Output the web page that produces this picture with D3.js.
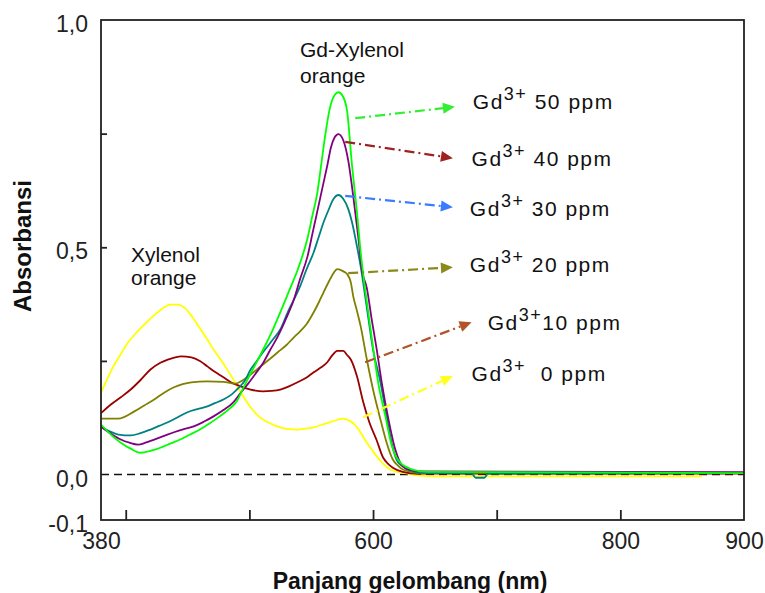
<!DOCTYPE html>
<html>
<head>
<meta charset="utf-8">
<script src="https://cdn.jsdelivr.net/npm/d3@7"></script>
<style>
  html, body { margin: 0; padding: 0; background: #fff; }
  svg { display: block; font-family: "Liberation Sans", Arial, sans-serif; }
  text { white-space: pre; }
</style>
</head>
<body>
<svg id="chart" width="765" height="593"></svg>
<script>
// Absorption spectra of xylenol orange with increasing Gd3+ (wavelength nm, absorbance)
const gd0 = [[380,0.181],[385,0.21],[390,0.238],[396,0.265],[402,0.291],[407,0.307],[412,0.322],[418,0.338],[424,0.353],[430,0.366],[436,0.374],[442,0.374],[448,0.366],[454,0.346],[460,0.322],[466,0.297],[471,0.275],[477,0.252],[482,0.231],[488,0.205],[493,0.181],[501,0.148],[506,0.132],[511,0.121],[518,0.111],[525,0.104],[532,0.100],[539,0.099],[545,0.101],[552,0.104],[558,0.109],[565,0.115],[571,0.12],[575,0.123],[582,0.117],[587,0.104],[591,0.088],[595,0.070],[599,0.055],[603,0.040],[608,0.024],[614,0.011],[620,0.006],[624,0.004],[630,0.001],[636,-0.002],[650,-0.004],[866,-0.004]];
const gd10 = [[380,0.135],[388,0.154],[396,0.170],[404,0.187],[412,0.208],[420,0.231],[428,0.246],[434,0.253],[440,0.258],[445,0.260],[453,0.258],[460,0.250],[466,0.238],[472,0.226],[479,0.214],[485,0.203],[493,0.194],[501,0.187],[511,0.183],[518,0.184],[525,0.187],[532,0.194],[539,0.203],[546,0.213],[552,0.225],[558,0.236],[563,0.247],[567,0.262],[571,0.272],[576,0.272],[579,0.263],[582,0.253],[587,0.216],[592,0.16],[597,0.115],[603,0.075],[608,0.038],[612,0.024],[616,0.015],[624,0.006],[636,0.002],[900,0.002]];
const gd20 = [[380,0.123],[394,0.123],[407,0.139],[415,0.152],[423,0.165],[431,0.18],[439,0.192],[446,0.199],[453,0.203],[466,0.205],[479,0.204],[488,0.200],[495,0.208],[502,0.222],[509,0.238],[516,0.253],[523,0.269],[530,0.285],[536,0.302],[541,0.315],[546,0.330],[552,0.357],[556,0.378],[560,0.401],[564,0.423],[568,0.443],[571,0.452],[576,0.447],[579,0.441],[582,0.423],[584,0.392],[587,0.36],[590,0.326],[595,0.253],[600,0.187],[606,0.121],[611,0.070],[616,0.033],[620,0.02],[624,0.011],[636,0.004],[900,0.003]];
const gd30 = [[380,0.105],[387,0.095],[394,0.088],[404,0.086],[412,0.091],[420,0.099],[427,0.107],[434,0.115],[442,0.126],[450,0.137],[458,0.144],[466,0.150],[472,0.157],[479,0.165],[486,0.177],[491,0.19],[496,0.205],[501,0.231],[506,0.25],[511,0.269],[519,0.297],[525,0.319],[531,0.357],[536,0.385],[541,0.414],[546,0.45],[552,0.489],[556,0.522],[560,0.555],[564,0.582],[568,0.606],[572,0.615],[576,0.606],[580,0.584],[583,0.555],[587,0.502],[590,0.458],[592,0.423],[596,0.348],[600,0.275],[606,0.203],[611,0.128],[615,0.070],[619,0.033],[623,0.02],[628,0.011],[638,0.004],[680,0.002],[683,-0.007],[690,-0.007],[693,0.002],[900,0.003]];
const gd40 = [[380,0.105],[388,0.09],[396,0.077],[403,0.07],[410,0.066],[416,0.07],[423,0.077],[431,0.085],[439,0.093],[447,0.1],[455,0.106],[463,0.116],[471,0.128],[479,0.142],[487,0.159],[493,0.18],[499,0.2],[505,0.222],[511,0.245],[517,0.275],[523,0.304],[530,0.345],[536,0.385],[541,0.43],[547,0.48],[551,0.53],[555,0.58],[559,0.63],[563,0.68],[566,0.72],[569,0.742],[572,0.749],[576,0.735],[580,0.69],[584,0.612],[588,0.524],[591,0.45],[595,0.41],[599,0.34],[603,0.275],[607,0.203],[612,0.128],[618,0.055],[624,0.018],[630,0.01],[636,0.007],[900,0.005]];
const gd50 = [[380,0.11],[388,0.088],[396,0.070],[404,0.057],[412,0.048],[420,0.052],[428,0.059],[436,0.068],[444,0.077],[452,0.088],[460,0.099],[468,0.113],[476,0.128],[484,0.145],[490,0.162],[495,0.19],[501,0.222],[507,0.253],[513,0.285],[519,0.319],[527,0.37],[533,0.41],[539,0.45],[547,0.52],[551,0.57],[555,0.621],[558,0.68],[561,0.74],[565,0.805],[569,0.835],[572,0.841],[576,0.83],[579,0.80],[583,0.68],[587,0.577],[590,0.489],[593,0.42],[596,0.36],[600,0.28],[604,0.205],[610,0.128],[615,0.065],[622,0.026],[632,0.011],[644,0.006],[900,0.003]];

// drawing order: 0 ppm first, 50 ppm on top
const seriesData = [gd0, gd10, gd20, gd30, gd40, gd50];
const seriesColors = ["#ffff00", "#990000", "#808000", "#008080", "#800080", "#00ff00"];

// Concentration annotations (top to bottom): 50, 40, 30, 20, 10, 0 ppm
const annotRest = [" 50 ppm", " 40 ppm", " 30 ppm", " 20 ppm", "10 ppm", "  0 ppm"];
const annotColors = ["#33ee33", "#9e2222", "#3a7cff", "#8a8a1c", "#b0542a", "#ffff22"];
const arrowFrom = [[585.6,0.784],[577.5,0.732],[577.5,0.613],[579.9,0.443],[593.6,0.247],[592,0.126]];
const arrowTo = [[666.2,0.809],[664.6,0.696],[664.6,0.588],[664.6,0.456],[679.7,0.335],[664.6,0.217]];
const annotAt = [[680.7,0.804],[679.7,0.679],[678.3,0.569],[678.3,0.445],[692.8,0.319],[679.7,0.205]];

// Axis ticks
const xTickMarks = [400, 500, 600, 700, 800];
const xTickLabels = [380, 600, 800, 900];
const yTickMarks = [0.25, 0.5, 0.75];
const yTickLabels = [-0.1, 0.0, 0.5, 1.0];

const svg = d3.select("#chart");
const x = d3.scaleLinear().domain([380, 900]).range([101, 744]);
const y = d3.scaleLinear().domain([-0.1, 1.0]).range([520, 20]);

const fmt = d3.formatLocale({decimal: ",", thousands: ".", grouping: [3], currency: ["", ""], minus: "-"}).format(".1f");

svg.append("defs").append("clipPath").attr("id", "plot-clip")
  .append("rect").attr("x", x(380)).attr("y", y(1.0)).attr("width", x(900) - x(380)).attr("height", y(-0.1) - y(1.0));

// zero baseline
svg.append("line")
  .attr("x1", x(380)).attr("x2", x(900)).attr("y1", y(0)).attr("y2", y(0))
  .attr("stroke", "#111").attr("stroke-width", 1.5).attr("stroke-dasharray", "8,5");

// spectra
const line = d3.line().x(d => x(d[0])).y(d => y(d[1])).curve(d3.curveMonotoneX);
svg.append("g").attr("clip-path", "url(#plot-clip)")
  .selectAll("path").data(seriesData).join("path")
  .attr("d", line)
  .attr("fill", "none")
  .attr("stroke", (d, i) => seriesColors[i])
  .attr("stroke-width", 1.8)
  .attr("stroke-linejoin", "round");

// frame
svg.append("rect")
  .attr("x", x(380)).attr("y", y(1.0))
  .attr("width", x(900) - x(380)).attr("height", y(-0.1) - y(1.0))
  .attr("fill", "none").attr("stroke", "#222").attr("stroke-width", 1.8);

// tick marks (inward)
const yMarks = svg.append("g").attr("transform", `translate(${x(380)},0)`)
  .call(d3.axisRight(y).tickValues(yTickMarks).tickSize(6).tickFormat(""));
const xMarks = svg.append("g").attr("transform", `translate(0,${y(-0.1)})`)
  .call(d3.axisTop(x).tickValues(xTickMarks).tickSize(10).tickFormat(""));
[yMarks, xMarks].forEach(g => {
  g.select(".domain").remove();
  g.selectAll("line").attr("stroke", "#222").attr("stroke-width", 1.8);
});

// tick labels
const yLab = svg.append("g").attr("transform", `translate(${x(380)},0)`)
  .call(d3.axisLeft(y).tickValues(yTickLabels).tickSize(0).tickPadding(13).tickFormat(fmt));
const xLab = svg.append("g").attr("transform", `translate(0,${y(-0.1)})`)
  .call(d3.axisBottom(x).tickValues(xTickLabels).tickSize(0).tickPadding(13).tickFormat(d3.format("d")));
[yLab, xLab].forEach(g => {
  g.select(".domain").remove();
  g.selectAll("text").attr("font-size", 23).attr("fill", "#222")
    .attr("font-family", "\"Liberation Sans\", Arial, sans-serif");
});
yLab.selectAll("text").attr("dy", "0.5em");

// axis titles
svg.append("text")
  .attr("transform", `translate(31,246) rotate(-90)`)
  .attr("text-anchor", "middle").attr("font-size", 24).attr("font-weight", "bold").attr("fill", "#111")
  .text("Absorbansi");
svg.append("text")
  .attr("x", 410).attr("y", 589)
  .attr("text-anchor", "middle").attr("font-size", 23).attr("font-weight", "bold").attr("fill", "#111")
  .text("Panjang gelombang (nm)");

// peak labels
const peakNote = svg.append("g").attr("font-size", 21).attr("fill", "#111");
peakNote.append("text").attr("x", 131).attr("y", 262).text("Xylenol");
peakNote.append("text").attr("x", 131).attr("y", 285).text("orange");
peakNote.append("text").attr("x", 300).attr("y", 57).text("Gd-Xylenol");
peakNote.append("text").attr("x", 300).attr("y", 83).text("orange");

// concentration arrows
const arrows = svg.append("g");
annotColors.forEach((c, i) => {
  const x0 = x(arrowFrom[i][0]), y0 = y(arrowFrom[i][1]);
  const x1 = x(arrowTo[i][0]), y1 = y(arrowTo[i][1]);
  const ang = Math.atan2(y1 - y0, x1 - x0);
  const head = 12, half = 5.5;
  const bx = x1 - head * Math.cos(ang), by = y1 - head * Math.sin(ang);
  arrows.append("line")
    .attr("x1", x0).attr("y1", y0).attr("x2", bx).attr("y2", by)
    .attr("stroke", c).attr("stroke-width", 2.2).attr("stroke-dasharray", "10,4,2,4");
  const px = -Math.sin(ang), py = Math.cos(ang);
  arrows.append("path")
    .attr("d", `M${x1},${y1}L${bx + half * px},${by + half * py}L${bx - half * px},${by - half * py}Z`)
    .attr("fill", c);
});

// concentration labels
const notes = svg.append("g").attr("fill", "#111");
annotRest.forEach((rest, i) => {
  const t = notes.append("text")
    .attr("x", x(annotAt[i][0])).attr("y", y(annotAt[i][1]))
    .attr("font-size", 21).attr("letter-spacing", 1.5);
  t.append("tspan").text("Gd");
  t.append("tspan").attr("font-size", 18).attr("dy", -9).text("3+");
  t.append("tspan").attr("dy", 9).text(rest);
});
</script>
</body>
</html>
